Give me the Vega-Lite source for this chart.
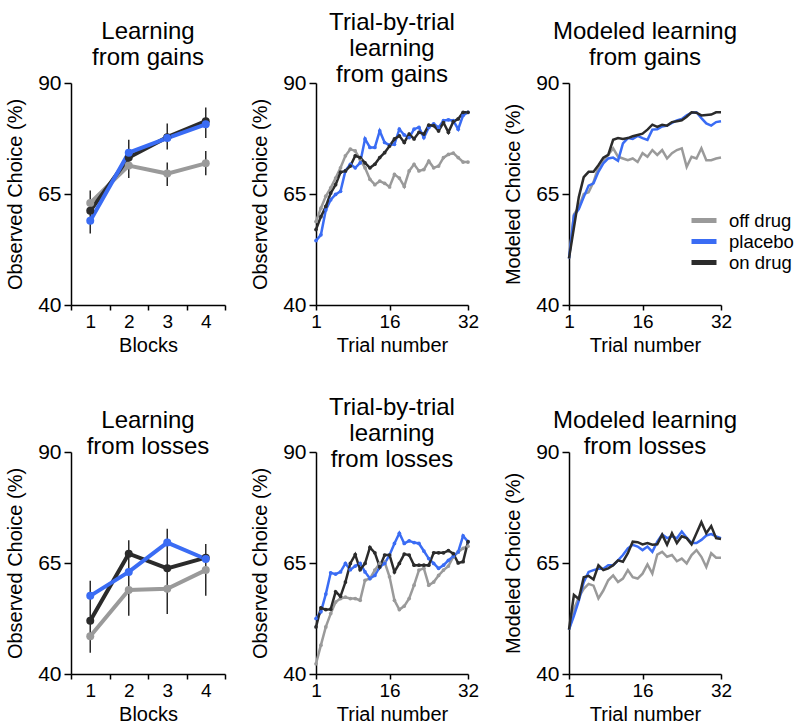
{
"$schema": "https://vega.github.io/schema/vega-lite/v6.json",
"background": "white",
"padding": {"left": 5, "top": 11, "right": 5, "bottom": 5},
"config": {
  "font": "Liberation Sans",
  "view": {"stroke": null},
  "axis": {"grid": false, "domainColor": "#000", "domainWidth": 1.5, "tickColor": "#000", "tickWidth": 1.5, "labelColor": "#000", "titleColor": "#000", "labelFontSize": 19, "titleFontSize": 20, "titleFontWeight": "normal", "labelFont": "Liberation Sans", "titleFont": "Liberation Sans", "labelFlush": false},
  "axisY": {"labelFontSize": 21, "tickSize": 7, "labelPadding": 3, "titlePadding": 12},
  "axisX": {"tickSize": 5, "labelPadding": 2, "titlePadding": 4},
  "title": {"fontSize": 24, "fontWeight": "normal", "font": "Liberation Sans", "lineHeight": 26, "color": "#000", "frame": "group", "anchor": "middle"}
},
"datasets": {
  "blocks": [
    {"panel":"gains","group":"off drug","block":1,"choice":63.0},{"panel":"gains","group":"off drug","block":2,"choice":71.4},{"panel":"gains","group":"off drug","block":3,"choice":69.6},{"panel":"gains","group":"off drug","block":4,"choice":71.9},
    {"panel":"gains","group":"on drug","block":1,"choice":61.2},{"panel":"gains","group":"on drug","block":2,"choice":73.2},{"panel":"gains","group":"on drug","block":3,"choice":77.8},{"panel":"gains","group":"on drug","block":4,"choice":81.4},
    {"panel":"gains","group":"placebo","block":1,"choice":59.0},{"panel":"gains","group":"placebo","block":2,"choice":74.3},{"panel":"gains","group":"placebo","block":3,"choice":77.6},{"panel":"gains","group":"placebo","block":4,"choice":80.7},
    {"panel":"losses","group":"off drug","block":1,"choice":48.5},{"panel":"losses","group":"off drug","block":2,"choice":58.9},{"panel":"losses","group":"off drug","block":3,"choice":59.2},{"panel":"losses","group":"off drug","block":4,"choice":63.4},
    {"panel":"losses","group":"on drug","block":1,"choice":52.0},{"panel":"losses","group":"on drug","block":2,"choice":67.1},{"panel":"losses","group":"on drug","block":3,"choice":63.8},{"panel":"losses","group":"on drug","block":4,"choice":66.2},
    {"panel":"losses","group":"placebo","block":1,"choice":57.6},{"panel":"losses","group":"placebo","block":2,"choice":63.0},{"panel":"losses","group":"placebo","block":3,"choice":69.6},{"panel":"losses","group":"placebo","block":4,"choice":65.9}
  ],
  "errs": [
    {"panel":"gains","block":1,"lo":56.1,"hi":65.8},{"panel":"gains","block":2,"lo":68.6,"hi":77.2},{"panel":"gains","block":3,"lo":75.0,"hi":80.9},{"panel":"gains","block":3,"lo":66.8,"hi":72.1},{"panel":"gains","block":4,"lo":77.6,"hi":84.5},{"panel":"gains","block":4,"lo":69.2,"hi":74.7},
    {"panel":"losses","block":1,"lo":44.8,"hi":61.0},{"panel":"losses","block":2,"lo":53.1,"hi":70.1},{"panel":"losses","block":3,"lo":53.5,"hi":72.7},{"panel":"losses","block":4,"lo":57.6,"hi":69.3}
  ],
  "obs_gains": [
    {"group":"off drug","trial":1,"choice":58.8},{"group":"off drug","trial":2,"choice":61.8},{"group":"off drug","trial":3,"choice":64.5},{"group":"off drug","trial":4,"choice":66.4},{"group":"off drug","trial":5,"choice":68.6},{"group":"off drug","trial":6,"choice":70.9},{"group":"off drug","trial":7,"choice":73.6},{"group":"off drug","trial":8,"choice":75.1},{"group":"off drug","trial":9,"choice":74.7},{"group":"off drug","trial":10,"choice":72.8},{"group":"off drug","trial":11,"choice":70.9},{"group":"off drug","trial":12,"choice":68.3},{"group":"off drug","trial":13,"choice":67.1},{"group":"off drug","trial":14,"choice":67.9},{"group":"off drug","trial":15,"choice":67.4},{"group":"off drug","trial":16,"choice":66.6},{"group":"off drug","trial":17,"choice":69.4},{"group":"off drug","trial":18,"choice":68.6},{"group":"off drug","trial":19,"choice":66.7},{"group":"off drug","trial":20,"choice":70.2},{"group":"off drug","trial":21,"choice":71.7},{"group":"off drug","trial":22,"choice":70.2},{"group":"off drug","trial":23,"choice":70.5},{"group":"off drug","trial":24,"choice":72.4},{"group":"off drug","trial":25,"choice":70.9},{"group":"off drug","trial":26,"choice":71.3},{"group":"off drug","trial":27,"choice":73.2},{"group":"off drug","trial":28,"choice":73.9},{"group":"off drug","trial":29,"choice":74.2},{"group":"off drug","trial":30,"choice":73.2},{"group":"off drug","trial":31,"choice":72.2},{"group":"off drug","trial":32,"choice":72.2},
    {"group":"placebo","trial":1,"choice":54.5},{"group":"placebo","trial":2,"choice":55.8},{"group":"placebo","trial":3,"choice":61.4},{"group":"placebo","trial":4,"choice":63.7},{"group":"placebo","trial":5,"choice":64.9},{"group":"placebo","trial":6,"choice":65.6},{"group":"placebo","trial":7,"choice":70.2},{"group":"placebo","trial":8,"choice":71.7},{"group":"placebo","trial":9,"choice":70.9},{"group":"placebo","trial":10,"choice":72.0},{"group":"placebo","trial":11,"choice":77.4},{"group":"placebo","trial":12,"choice":75.5},{"group":"placebo","trial":13,"choice":75.5},{"group":"placebo","trial":14,"choice":79.2},{"group":"placebo","trial":15,"choice":76.6},{"group":"placebo","trial":16,"choice":76.0},{"group":"placebo","trial":17,"choice":76.2},{"group":"placebo","trial":18,"choice":79.6},{"group":"placebo","trial":19,"choice":78.3},{"group":"placebo","trial":20,"choice":77.7},{"group":"placebo","trial":21,"choice":79.6},{"group":"placebo","trial":22,"choice":80.0},{"group":"placebo","trial":23,"choice":77.7},{"group":"placebo","trial":24,"choice":80.0},{"group":"placebo","trial":25,"choice":80.8},{"group":"placebo","trial":26,"choice":80.0},{"group":"placebo","trial":27,"choice":81.5},{"group":"placebo","trial":28,"choice":81.7},{"group":"placebo","trial":29,"choice":81.5},{"group":"placebo","trial":30,"choice":79.6},{"group":"placebo","trial":31,"choice":82.7},{"group":"placebo","trial":32,"choice":83.4},
    {"group":"on drug","trial":1,"choice":57.0},{"group":"on drug","trial":2,"choice":59.9},{"group":"on drug","trial":3,"choice":62.2},{"group":"on drug","trial":4,"choice":65.2},{"group":"on drug","trial":5,"choice":67.1},{"group":"on drug","trial":6,"choice":69.9},{"group":"on drug","trial":7,"choice":70.2},{"group":"on drug","trial":8,"choice":71.3},{"group":"on drug","trial":9,"choice":73.6},{"group":"on drug","trial":10,"choice":73.2},{"group":"on drug","trial":11,"choice":72.0},{"group":"on drug","trial":12,"choice":70.9},{"group":"on drug","trial":13,"choice":71.7},{"group":"on drug","trial":14,"choice":73.2},{"group":"on drug","trial":15,"choice":74.3},{"group":"on drug","trial":16,"choice":75.8},{"group":"on drug","trial":17,"choice":77.4},{"group":"on drug","trial":18,"choice":78.1},{"group":"on drug","trial":19,"choice":76.6},{"group":"on drug","trial":20,"choice":78.5},{"group":"on drug","trial":21,"choice":77.4},{"group":"on drug","trial":22,"choice":78.9},{"group":"on drug","trial":23,"choice":78.5},{"group":"on drug","trial":24,"choice":80.5},{"group":"on drug","trial":25,"choice":80.4},{"group":"on drug","trial":26,"choice":79.2},{"group":"on drug","trial":27,"choice":81.1},{"group":"on drug","trial":28,"choice":78.9},{"group":"on drug","trial":29,"choice":81.3},{"group":"on drug","trial":30,"choice":81.9},{"group":"on drug","trial":31,"choice":83.4},{"group":"on drug","trial":32,"choice":83.4}
  ],
  "mod_gains": [
    {"group":"off drug","trial":1,"choice":50.5},{"group":"off drug","trial":2,"choice":60.4},{"group":"off drug","trial":3,"choice":62.0},{"group":"off drug","trial":4,"choice":65.0},{"group":"off drug","trial":5,"choice":65.4},{"group":"off drug","trial":6,"choice":67.7},{"group":"off drug","trial":7,"choice":71.1},{"group":"off drug","trial":8,"choice":72.6},{"group":"off drug","trial":9,"choice":73.8},{"group":"off drug","trial":10,"choice":75.3},{"group":"off drug","trial":11,"choice":73.4},{"group":"off drug","trial":12,"choice":73.0},{"group":"off drug","trial":13,"choice":72.6},{"group":"off drug","trial":14,"choice":73.0},{"group":"off drug","trial":15,"choice":72.2},{"group":"off drug","trial":16,"choice":74.2},{"group":"off drug","trial":17,"choice":73.4},{"group":"off drug","trial":18,"choice":74.9},{"group":"off drug","trial":19,"choice":73.8},{"group":"off drug","trial":20,"choice":74.9},{"group":"off drug","trial":21,"choice":73.0},{"group":"off drug","trial":22,"choice":74.2},{"group":"off drug","trial":23,"choice":74.9},{"group":"off drug","trial":24,"choice":75.3},{"group":"off drug","trial":25,"choice":71.1},{"group":"off drug","trial":26,"choice":73.4},{"group":"off drug","trial":27,"choice":73.0},{"group":"off drug","trial":28,"choice":75.3},{"group":"off drug","trial":29,"choice":72.6},{"group":"off drug","trial":30,"choice":72.6},{"group":"off drug","trial":31,"choice":73.0},{"group":"off drug","trial":32,"choice":73.2},
    {"group":"placebo","trial":1,"choice":50.5},{"group":"placebo","trial":2,"choice":60.1},{"group":"placebo","trial":3,"choice":61.6},{"group":"placebo","trial":4,"choice":64.3},{"group":"placebo","trial":5,"choice":66.9},{"group":"placebo","trial":6,"choice":67.4},{"group":"placebo","trial":7,"choice":70.0},{"group":"placebo","trial":8,"choice":71.9},{"group":"placebo","trial":9,"choice":73.0},{"group":"placebo","trial":10,"choice":73.2},{"group":"placebo","trial":11,"choice":72.5},{"group":"placebo","trial":12,"choice":76.4},{"group":"placebo","trial":13,"choice":77.6},{"group":"placebo","trial":14,"choice":77.4},{"group":"placebo","trial":15,"choice":78.1},{"group":"placebo","trial":16,"choice":77.6},{"group":"placebo","trial":17,"choice":77.2},{"group":"placebo","trial":18,"choice":79.5},{"group":"placebo","trial":19,"choice":79.6},{"group":"placebo","trial":20,"choice":80.2},{"group":"placebo","trial":21,"choice":80.4},{"group":"placebo","trial":22,"choice":81.0},{"group":"placebo","trial":23,"choice":81.6},{"group":"placebo","trial":24,"choice":81.9},{"group":"placebo","trial":25,"choice":82.7},{"group":"placebo","trial":26,"choice":83.3},{"group":"placebo","trial":27,"choice":83.4},{"group":"placebo","trial":28,"choice":82.1},{"group":"placebo","trial":29,"choice":80.9},{"group":"placebo","trial":30,"choice":80.4},{"group":"placebo","trial":31,"choice":81.2},{"group":"placebo","trial":32,"choice":81.4},
    {"group":"on drug","trial":1,"choice":50.5},{"group":"on drug","trial":2,"choice":57.4},{"group":"on drug","trial":3,"choice":64.3},{"group":"on drug","trial":4,"choice":68.8},{"group":"on drug","trial":5,"choice":70.0},{"group":"on drug","trial":6,"choice":70.0},{"group":"on drug","trial":7,"choice":71.5},{"group":"on drug","trial":8,"choice":73.2},{"group":"on drug","trial":9,"choice":73.8},{"group":"on drug","trial":10,"choice":77.2},{"group":"on drug","trial":11,"choice":77.6},{"group":"on drug","trial":12,"choice":77.4},{"group":"on drug","trial":13,"choice":77.6},{"group":"on drug","trial":14,"choice":78.0},{"group":"on drug","trial":15,"choice":78.3},{"group":"on drug","trial":16,"choice":78.6},{"group":"on drug","trial":17,"choice":79.5},{"group":"on drug","trial":18,"choice":80.6},{"group":"on drug","trial":19,"choice":80.1},{"group":"on drug","trial":20,"choice":80.6},{"group":"on drug","trial":21,"choice":80.4},{"group":"on drug","trial":22,"choice":81.2},{"group":"on drug","trial":23,"choice":81.4},{"group":"on drug","trial":24,"choice":81.6},{"group":"on drug","trial":25,"choice":82.4},{"group":"on drug","trial":26,"choice":83.4},{"group":"on drug","trial":27,"choice":83.3},{"group":"on drug","trial":28,"choice":82.7},{"group":"on drug","trial":29,"choice":82.8},{"group":"on drug","trial":30,"choice":82.9},{"group":"on drug","trial":31,"choice":83.4},{"group":"on drug","trial":32,"choice":83.4}
  ],
  "obs_losses": [
    {"group":"off drug","trial":1,"choice":42.3},{"group":"off drug","trial":2,"choice":46.5},{"group":"off drug","trial":3,"choice":50.6},{"group":"off drug","trial":4,"choice":53.6},{"group":"off drug","trial":5,"choice":56.2},{"group":"off drug","trial":6,"choice":57.0},{"group":"off drug","trial":7,"choice":57.3},{"group":"off drug","trial":8,"choice":57.0},{"group":"off drug","trial":9,"choice":57.0},{"group":"off drug","trial":10,"choice":56.6},{"group":"off drug","trial":11,"choice":61.1},{"group":"off drug","trial":12,"choice":61.5},{"group":"off drug","trial":13,"choice":63.4},{"group":"off drug","trial":14,"choice":64.9},{"group":"off drug","trial":15,"choice":65.2},{"group":"off drug","trial":16,"choice":61.9},{"group":"off drug","trial":17,"choice":56.6},{"group":"off drug","trial":18,"choice":54.5},{"group":"off drug","trial":19,"choice":55.3},{"group":"off drug","trial":20,"choice":57.0},{"group":"off drug","trial":21,"choice":60.0},{"group":"off drug","trial":22,"choice":63.4},{"group":"off drug","trial":23,"choice":63.8},{"group":"off drug","trial":24,"choice":60.0},{"group":"off drug","trial":25,"choice":60.7},{"group":"off drug","trial":26,"choice":62.2},{"group":"off drug","trial":27,"choice":63.4},{"group":"off drug","trial":28,"choice":64.3},{"group":"off drug","trial":29,"choice":66.4},{"group":"off drug","trial":30,"choice":67.5},{"group":"off drug","trial":31,"choice":68.3},{"group":"off drug","trial":32,"choice":68.8},
    {"group":"placebo","trial":1,"choice":52.5},{"group":"placebo","trial":2,"choice":54.0},{"group":"placebo","trial":3,"choice":58.0},{"group":"placebo","trial":4,"choice":62.8},{"group":"placebo","trial":5,"choice":62.5},{"group":"placebo","trial":6,"choice":63.0},{"group":"placebo","trial":7,"choice":64.9},{"group":"placebo","trial":8,"choice":63.5},{"group":"placebo","trial":9,"choice":64.3},{"group":"placebo","trial":10,"choice":64.9},{"group":"placebo","trial":11,"choice":63.0},{"group":"placebo","trial":12,"choice":61.5},{"group":"placebo","trial":13,"choice":62.2},{"group":"placebo","trial":14,"choice":64.1},{"group":"placebo","trial":15,"choice":64.9},{"group":"placebo","trial":16,"choice":66.8},{"group":"placebo","trial":17,"choice":69.4},{"group":"placebo","trial":18,"choice":71.7},{"group":"placebo","trial":19,"choice":69.4},{"group":"placebo","trial":20,"choice":70.0},{"group":"placebo","trial":21,"choice":69.6},{"group":"placebo","trial":22,"choice":69.4},{"group":"placebo","trial":23,"choice":67.7},{"group":"placebo","trial":24,"choice":66.0},{"group":"placebo","trial":25,"choice":64.9},{"group":"placebo","trial":26,"choice":63.8},{"group":"placebo","trial":27,"choice":64.5},{"group":"placebo","trial":28,"choice":65.6},{"group":"placebo","trial":29,"choice":66.5},{"group":"placebo","trial":30,"choice":67.5},{"group":"placebo","trial":31,"choice":71.1},{"group":"placebo","trial":32,"choice":69.8},
    {"group":"on drug","trial":1,"choice":50.6},{"group":"on drug","trial":2,"choice":54.9},{"group":"on drug","trial":3,"choice":54.5},{"group":"on drug","trial":4,"choice":54.6},{"group":"on drug","trial":5,"choice":58.5},{"group":"on drug","trial":6,"choice":57.5},{"group":"on drug","trial":7,"choice":60.7},{"group":"on drug","trial":8,"choice":64.9},{"group":"on drug","trial":9,"choice":66.9},{"group":"on drug","trial":10,"choice":63.5},{"group":"on drug","trial":11,"choice":64.9},{"group":"on drug","trial":12,"choice":68.5},{"group":"on drug","trial":13,"choice":67.3},{"group":"on drug","trial":14,"choice":64.1},{"group":"on drug","trial":15,"choice":66.8},{"group":"on drug","trial":16,"choice":66.8},{"group":"on drug","trial":17,"choice":63.0},{"group":"on drug","trial":18,"choice":64.9},{"group":"on drug","trial":19,"choice":67.0},{"group":"on drug","trial":20,"choice":66.8},{"group":"on drug","trial":21,"choice":64.5},{"group":"on drug","trial":22,"choice":64.5},{"group":"on drug","trial":23,"choice":64.5},{"group":"on drug","trial":24,"choice":64.5},{"group":"on drug","trial":25,"choice":67.3},{"group":"on drug","trial":26,"choice":67.3},{"group":"on drug","trial":27,"choice":67.3},{"group":"on drug","trial":28,"choice":67.8},{"group":"on drug","trial":29,"choice":67.1},{"group":"on drug","trial":30,"choice":65.0},{"group":"on drug","trial":31,"choice":65.3},{"group":"on drug","trial":32,"choice":69.8}
  ],
  "mod_losses": [
    {"group":"off drug","trial":1,"choice":50.0},{"group":"off drug","trial":2,"choice":54.6},{"group":"off drug","trial":3,"choice":57.3},{"group":"off drug","trial":4,"choice":59.2},{"group":"off drug","trial":5,"choice":60.3},{"group":"off drug","trial":6,"choice":59.9},{"group":"off drug","trial":7,"choice":57.0},{"group":"off drug","trial":8,"choice":58.8},{"group":"off drug","trial":9,"choice":61.1},{"group":"off drug","trial":10,"choice":62.2},{"group":"off drug","trial":11,"choice":60.7},{"group":"off drug","trial":12,"choice":61.5},{"group":"off drug","trial":13,"choice":63.4},{"group":"off drug","trial":14,"choice":61.8},{"group":"off drug","trial":15,"choice":61.5},{"group":"off drug","trial":16,"choice":62.6},{"group":"off drug","trial":17,"choice":64.7},{"group":"off drug","trial":18,"choice":62.6},{"group":"off drug","trial":19,"choice":66.9},{"group":"off drug","trial":20,"choice":67.5},{"group":"off drug","trial":21,"choice":66.4},{"group":"off drug","trial":22,"choice":66.8},{"group":"off drug","trial":23,"choice":65.4},{"group":"off drug","trial":24,"choice":66.0},{"group":"off drug","trial":25,"choice":64.9},{"group":"off drug","trial":26,"choice":66.8},{"group":"off drug","trial":27,"choice":67.9},{"group":"off drug","trial":28,"choice":66.4},{"group":"off drug","trial":29,"choice":64.1},{"group":"off drug","trial":30,"choice":67.2},{"group":"off drug","trial":31,"choice":66.2},{"group":"off drug","trial":32,"choice":66.2},
    {"group":"placebo","trial":1,"choice":50.0},{"group":"placebo","trial":2,"choice":53.1},{"group":"placebo","trial":3,"choice":56.5},{"group":"placebo","trial":4,"choice":60.7},{"group":"placebo","trial":5,"choice":63.0},{"group":"placebo","trial":6,"choice":63.4},{"group":"placebo","trial":7,"choice":63.7},{"group":"placebo","trial":8,"choice":63.7},{"group":"placebo","trial":9,"choice":64.5},{"group":"placebo","trial":10,"choice":64.5},{"group":"placebo","trial":11,"choice":65.6},{"group":"placebo","trial":12,"choice":66.8},{"group":"placebo","trial":13,"choice":68.3},{"group":"placebo","trial":14,"choice":69.1},{"group":"placebo","trial":15,"choice":68.7},{"group":"placebo","trial":16,"choice":67.9},{"group":"placebo","trial":17,"choice":68.7},{"group":"placebo","trial":18,"choice":67.5},{"group":"placebo","trial":19,"choice":69.8},{"group":"placebo","trial":20,"choice":71.4},{"group":"placebo","trial":21,"choice":70.6},{"group":"placebo","trial":22,"choice":71.0},{"group":"placebo","trial":23,"choice":70.6},{"group":"placebo","trial":24,"choice":72.1},{"group":"placebo","trial":25,"choice":70.7},{"group":"placebo","trial":26,"choice":69.5},{"group":"placebo","trial":27,"choice":69.5},{"group":"placebo","trial":28,"choice":70.2},{"group":"placebo","trial":29,"choice":71.2},{"group":"placebo","trial":30,"choice":71.5},{"group":"placebo","trial":31,"choice":71.0},{"group":"placebo","trial":32,"choice":70.6},
    {"group":"on drug","trial":1,"choice":50.0},{"group":"on drug","trial":2,"choice":57.8},{"group":"on drug","trial":3,"choice":56.9},{"group":"on drug","trial":4,"choice":61.8},{"group":"on drug","trial":5,"choice":62.1},{"group":"on drug","trial":6,"choice":61.3},{"group":"on drug","trial":7,"choice":64.5},{"group":"on drug","trial":8,"choice":63.4},{"group":"on drug","trial":9,"choice":63.8},{"group":"on drug","trial":10,"choice":64.5},{"group":"on drug","trial":11,"choice":65.6},{"group":"on drug","trial":12,"choice":65.3},{"group":"on drug","trial":13,"choice":67.2},{"group":"on drug","trial":14,"choice":69.8},{"group":"on drug","trial":15,"choice":69.7},{"group":"on drug","trial":16,"choice":69.2},{"group":"on drug","trial":17,"choice":69.5},{"group":"on drug","trial":18,"choice":69.1},{"group":"on drug","trial":19,"choice":69.2},{"group":"on drug","trial":20,"choice":71.4},{"group":"on drug","trial":21,"choice":69.1},{"group":"on drug","trial":22,"choice":71.7},{"group":"on drug","trial":23,"choice":69.5},{"group":"on drug","trial":24,"choice":71.0},{"group":"on drug","trial":25,"choice":70.6},{"group":"on drug","trial":26,"choice":69.2},{"group":"on drug","trial":27,"choice":71.7},{"group":"on drug","trial":28,"choice":74.2},{"group":"on drug","trial":29,"choice":71.7},{"group":"on drug","trial":30,"choice":73.3},{"group":"on drug","trial":31,"choice":70.6},{"group":"on drug","trial":32,"choice":70.4}
  ]
},
"resolve": {"scale": {"color": "independent"}, "legend": {"color": "independent"}},
"spacing": 41,
"vconcat": [
  {
    "spacing": 24,
    "resolve": {"scale": {"color": "independent"}, "legend": {"color": "independent"}},
    "hconcat": [
      {
        "width": 154, "height": 222,
        "title": {"text": ["Learning", "from gains"], "offset": 2},
        "layer": [
          {"data": {"name": "errs"}, "transform": [{"filter": "datum.panel === 'gains'"}],
           "mark": {"type": "rule", "color": "#2b2b2b", "strokeWidth": 1.5},
           "encoding": {"x": {"field": "block", "type": "ordinal", "bandPosition": 0.5, "scale": {"type": "band", "paddingInner": 0, "paddingOuter": 0}, "axis": {"title": "Blocks", "labelAngle": 0, "tickBand": "extent"}},
                        "y": {"field": "lo", "type": "quantitative", "scale": {"domain": [40, 90], "nice": false, "zero": false}, "axis": {"values": [40, 65, 90], "title": "Observed Choice (%)"}},
                        "y2": {"field": "hi"}}},
          {"data": {"name": "blocks"}, "transform": [{"filter": "datum.panel === 'gains'"}],
           "mark": {"type": "line", "strokeWidth": 4},
           "encoding": {"x": {"field": "block", "type": "ordinal", "bandPosition": 0.5},
                        "y": {"field": "choice", "type": "quantitative"},
                        "color": {"field": "group", "type": "nominal", "scale": {"domain": ["off drug", "placebo", "on drug"], "range": ["#9a9a9a", "#3a6cf4", "#2b2b2b"]}, "legend": null}}},
          {"data": {"name": "blocks"}, "transform": [{"filter": "datum.panel === 'gains'"}],
           "mark": {"type": "point", "filled": true, "size": 64, "opacity": 1},
           "encoding": {"x": {"field": "block", "type": "ordinal", "bandPosition": 0.5},
                        "y": {"field": "choice", "type": "quantitative"},
                        "color": {"field": "group", "type": "nominal", "legend": null}}}
        ]
      },
      {
        "width": 152, "height": 222,
        "title": {"text": ["Trial-by-trial", "learning", "from gains"], "offset": -15},
        "data": {"name": "obs_gains"},
        "encoding": {"x": {"field": "trial", "type": "quantitative", "scale": {"domain": [1, 32], "nice": false, "zero": false}, "axis": {"values": [1, 16, 32], "title": "Trial number"}},
                     "y": {"field": "choice", "type": "quantitative", "scale": {"domain": [40, 90], "nice": false, "zero": false}, "axis": {"values": [40, 65, 90], "title": "Observed Choice (%)"}},
                     "color": {"field": "group", "type": "nominal", "sort": null, "scale": {"domain": ["off drug", "placebo", "on drug"], "range": ["#9a9a9a", "#3a6cf4", "#2b2b2b"]}, "legend": null}},
        "layer": [
          {"mark": {"type": "line", "strokeWidth": 2.5}},
          {"mark": {"type": "point", "filled": true, "size": 14, "opacity": 1}}
        ]
      },
      {
        "width": 152, "height": 222,
        "title": {"text": ["Modeled learning", "from gains"], "offset": 2},
        "data": {"name": "mod_gains"},
        "mark": {"type": "line", "strokeWidth": 2.5},
        "encoding": {"x": {"field": "trial", "type": "quantitative", "scale": {"domain": [1, 32], "nice": false, "zero": false}, "axis": {"values": [1, 16, 32], "title": "Trial number"}},
                     "y": {"field": "choice", "type": "quantitative", "scale": {"domain": [40, 90], "nice": false, "zero": false}, "axis": {"values": [40, 65, 90], "title": "Modeled Choice (%)"}},
                     "color": {"field": "group", "type": "nominal", "sort": null, "scale": {"domain": ["off drug", "placebo", "on drug"], "range": ["#9a9a9a", "#3a6cf4", "#2b2b2b"]},
                               "legend": {"title": null, "orient": "none", "legendX": 120, "legendY": 128, "symbolType": "stroke", "symbolSize": 625, "symbolStrokeWidth": 5, "labelFontSize": 18.5, "labelFont": "Liberation Sans", "labelColor": "#000", "labelOffset": 10, "clipHeight": 19, "rowPadding": 2}}}
      }
    ]
  },
  {
    "spacing": 24,
    "resolve": {"scale": {"color": "independent"}, "legend": {"color": "independent"}},
    "hconcat": [
      {
        "width": 154, "height": 222,
        "title": {"text": ["Learning", "from losses"], "offset": -18},
        "layer": [
          {"data": {"name": "errs"}, "transform": [{"filter": "datum.panel === 'losses'"}],
           "mark": {"type": "rule", "color": "#2b2b2b", "strokeWidth": 1.5},
           "encoding": {"x": {"field": "block", "type": "ordinal", "bandPosition": 0.5, "scale": {"type": "band", "paddingInner": 0, "paddingOuter": 0}, "axis": {"title": "Blocks", "labelAngle": 0, "tickBand": "extent"}},
                        "y": {"field": "lo", "type": "quantitative", "scale": {"domain": [40, 90], "nice": false, "zero": false}, "axis": {"values": [40, 65, 90], "title": "Observed Choice (%)"}},
                        "y2": {"field": "hi"}}},
          {"data": {"name": "blocks"}, "transform": [{"filter": "datum.panel === 'losses'"}],
           "mark": {"type": "line", "strokeWidth": 4},
           "encoding": {"x": {"field": "block", "type": "ordinal", "bandPosition": 0.5},
                        "y": {"field": "choice", "type": "quantitative"},
                        "color": {"field": "group", "type": "nominal", "scale": {"domain": ["off drug", "placebo", "on drug"], "range": ["#9a9a9a", "#3a6cf4", "#2b2b2b"]}, "legend": null}}},
          {"data": {"name": "blocks"}, "transform": [{"filter": "datum.panel === 'losses'"}],
           "mark": {"type": "point", "filled": true, "size": 64, "opacity": 1},
           "encoding": {"x": {"field": "block", "type": "ordinal", "bandPosition": 0.5},
                        "y": {"field": "choice", "type": "quantitative"},
                        "color": {"field": "group", "type": "nominal", "legend": null}}}
        ]
      },
      {
        "width": 152, "height": 222,
        "title": {"text": ["Trial-by-trial", "learning", "from losses"], "offset": -31},
        "data": {"name": "obs_losses"},
        "encoding": {"x": {"field": "trial", "type": "quantitative", "scale": {"domain": [1, 32], "nice": false, "zero": false}, "axis": {"values": [1, 16, 32], "title": "Trial number"}},
                     "y": {"field": "choice", "type": "quantitative", "scale": {"domain": [40, 90], "nice": false, "zero": false}, "axis": {"values": [40, 65, 90], "title": "Observed Choice (%)"}},
                     "color": {"field": "group", "type": "nominal", "sort": null, "scale": {"domain": ["off drug", "placebo", "on drug"], "range": ["#9a9a9a", "#3a6cf4", "#2b2b2b"]}, "legend": null}},
        "layer": [
          {"mark": {"type": "line", "strokeWidth": 2.5}},
          {"mark": {"type": "point", "filled": true, "size": 14, "opacity": 1}}
        ]
      },
      {
        "width": 152, "height": 222,
        "title": {"text": ["Modeled learning", "from losses"], "offset": -18},
        "data": {"name": "mod_losses"},
        "mark": {"type": "line", "strokeWidth": 2.5},
        "encoding": {"x": {"field": "trial", "type": "quantitative", "scale": {"domain": [1, 32], "nice": false, "zero": false}, "axis": {"values": [1, 16, 32], "title": "Trial number"}},
                     "y": {"field": "choice", "type": "quantitative", "scale": {"domain": [40, 90], "nice": false, "zero": false}, "axis": {"values": [40, 65, 90], "title": "Modeled Choice (%)"}},
                     "color": {"field": "group", "type": "nominal", "sort": null, "scale": {"domain": ["off drug", "placebo", "on drug"], "range": ["#9a9a9a", "#3a6cf4", "#2b2b2b"]}, "legend": null}}
      }
    ]
  }
]
}
